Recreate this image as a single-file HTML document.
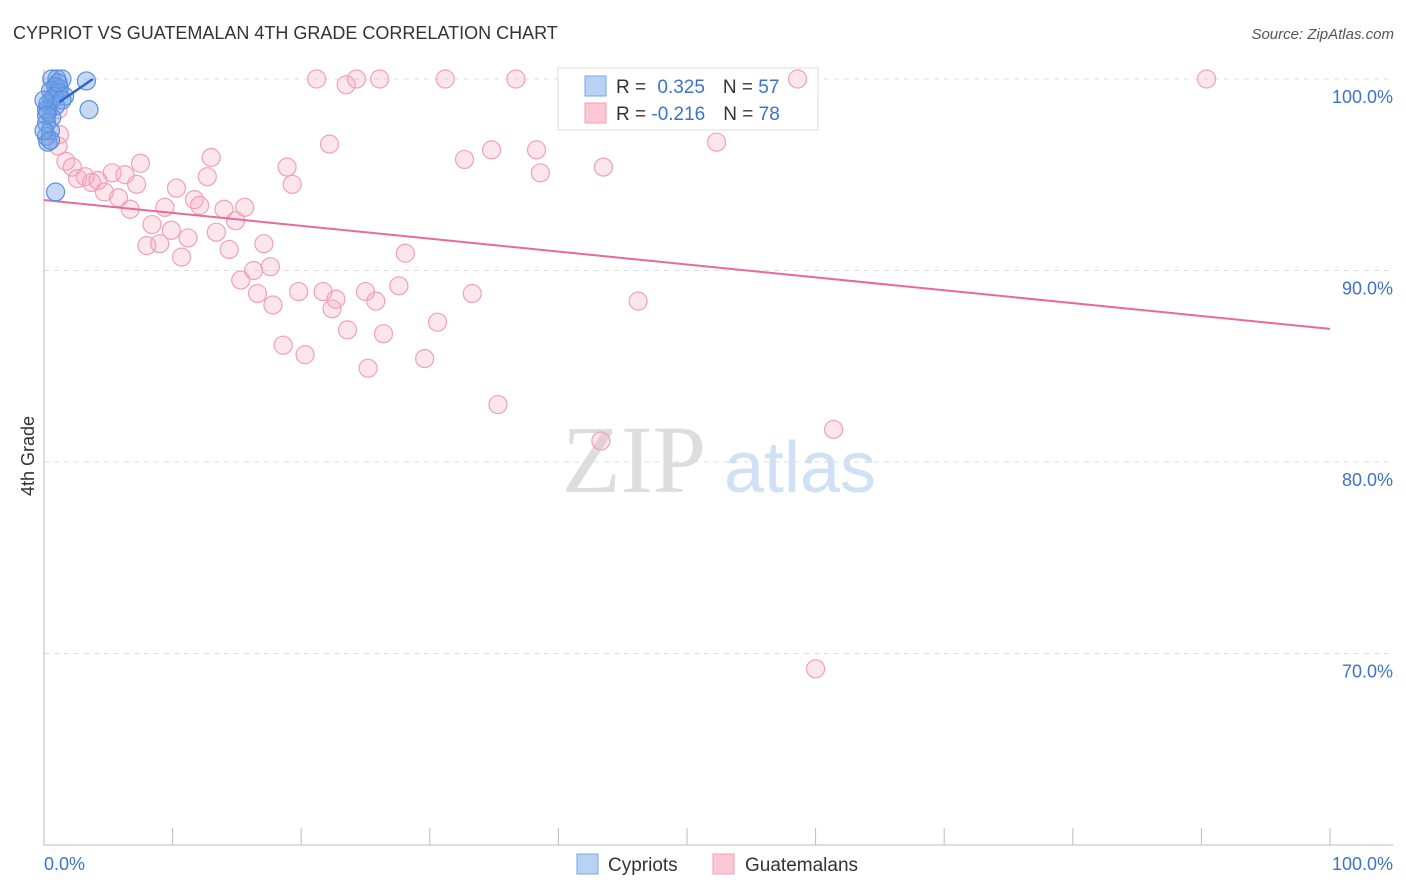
<!DOCTYPE html>
<html><head><meta charset="utf-8"><style>
body{margin:0;background:#fff;font-family:"Liberation Sans",sans-serif}
</style></head><body>
<svg id="c" width="1406" height="892" style="display:block">
<text x="13" y="39" font-size="18" fill="#333">CYPRIOT VS GUATEMALAN 4TH GRADE CORRELATION CHART</text>
<text x="1394" y="39" font-size="15" fill="#555" font-style="italic" text-anchor="end">Source: ZipAtlas.com</text>
<text x="34" y="456" font-size="18" fill="#333" transform="rotate(-90 34 456)" text-anchor="middle">4th Grade</text>
<text x="634" y="492" font-size="96" fill="#ddd" font-family="Liberation Serif" text-anchor="middle">ZIP</text>
<text x="800" y="492" font-size="72" fill="#d0e0f5" text-anchor="middle">atlas</text>
<g id="grid"></g>
<g>
<rect x="558" y="68" width="260" height="62" fill="#fff" stroke="#ddd"/>
<rect x="585" y="76" width="21" height="20" fill="#b8d2f5" stroke="#7aa6e6"/>
<rect x="585" y="103" width="21" height="20" fill="#fcc8d6" stroke="#f0a0b8"/>
<text x="616" y="93" font-size="19" fill="#333">R = <tspan fill="#3b73cc" dx="6">0.325</tspan><tspan dx="18" fill="#333">N = </tspan><tspan fill="#3b73cc">57</tspan></text>
<text x="616" y="120" font-size="19" fill="#333">R = <tspan fill="#3b73cc">-0.216</tspan><tspan dx="18" fill="#333">N = </tspan><tspan fill="#3b73cc">78</tspan></text>
</g>
<g id="pink"></g><g id="blue"></g>
<g>
<rect x="577" y="854" width="21" height="20" fill="#b8d2f5" stroke="#7aa6e6"/>
<text x="608" y="871" font-size="19" fill="#333">Cypriots</text>
<rect x="713" y="854" width="21" height="20" fill="#fcc8d6" stroke="#f0a0b8"/>
<text x="745" y="871" font-size="19" fill="#333">Guatemalans</text>
</g>
</svg>
<script>
const yTicks=[100,90,80,70];
const yTickLabels=["100.0%","90.0%","80.0%","70.0%"];
const xTicks=[0,10,20,30,40,50,60,70,80,90,100];
const blueX=[0.6,1.0,1.4,3.3,3.5,0.9,1.2,0.5,1.1,1.6,0.6,0.3,0.9,0.3,0.6,0.2,0.5,0.2,0.3,0.9,0.8,0.2,0.5,0,1.1,1.4,0.2,0];
const blueY=[100,100,100,99.9,98.4,99.6,99.5,99.4,99.3,99.1,98.9,98.7,98.6,98.3,98.0,97.7,97.3,97.0,96.7,94.1,99.1,98.4,96.8,98.9,99.8,98.9,98.1,97.3];
const pinkX=[21.2,23.5,24.3,26.1,31.2,36.7,58.6,90.4,1.1,1.2,1.1,1.7,2.2,2.6,3.2,3.7,4.2,4.7,5.8,5.3,6.3,7.2,7.5,6.7,8.0,8.4,9.0,9.4,9.9,10.3,10.7,11.2,11.7,12.1,12.7,13.0,13.4,14.0,14.4,14.9,15.6,15.3,16.3,16.6,17.1,17.6,17.8,18.6,18.9,19.3,19.8,20.3,21.7,22.2,22.4,22.7,23.6,25.0,25.2,25.8,26.4,27.6,28.1,29.6,30.6,32.7,33.3,34.8,35.3,38.3,38.6,43.3,43.5,46.2,52.3,61.4,60.0];
const pinkY=[100,99.7,100,100,100,100,100,100,98.4,97.1,96.5,95.7,95.4,94.8,94.9,94.6,94.7,94.1,93.8,95.1,95.0,94.5,95.6,93.2,91.3,92.4,91.4,93.3,92.1,94.3,90.7,91.7,93.7,93.4,94.9,95.9,92.0,93.2,91.1,92.6,93.3,89.5,90.0,88.8,91.4,90.2,88.2,86.1,95.4,94.5,88.9,85.6,88.9,96.6,88.0,88.5,86.9,88.9,84.9,88.4,86.7,89.2,90.9,85.4,87.3,95.8,88.8,96.3,83.0,96.3,95.1,81.1,95.4,88.4,96.7,81.7,69.2];
const blueTrend=[[1.2,98.8],[3.8,100]];
const pinkTrend=[[0,93.68],[100,86.95]];
const X=v=>44+v*12.86, Y=v=>79+(100-v)*19.15;
const NS="http://www.w3.org/2000/svg";
function mk(t,a,p){const e=document.createElementNS(NS,t);for(const k in a)e.setAttribute(k,a[k]);p.appendChild(e);return e;}
const g=document.getElementById('grid');
yTicks.forEach((t,i)=>{
 const l=mk('line',{x1:44,x2:1393,y1:Y(t),y2:Y(t),stroke:'#ddd','stroke-dasharray':'5,5'},g);
 
 
 const tx=mk('text',{x:1393,y:Y(t)+24,'font-size':18,fill:'#3b73cc','text-anchor':'end'},g);
 tx.textContent=yTickLabels[i];
 
 
});
const ax=mk('path',{d:'M44 70V845H1393',stroke:'#bbb',fill:'none'},g);


xTicks.forEach(t=>{
 const l=mk('line',{x1:X(t),x2:X(t),y1:828,y2:845,stroke:'#bbb'},g);
 
 
});
[[0,"0.0%","start",44],[100,"100.0%","end",1393]].forEach(d=>{
 const tx=mk('text',{x:d[3],y:870,'font-size':18,fill:'#3b73cc','text-anchor':d[2]},g);
 tx.textContent=d[1];
 
 
});
function pts(xs,ys,grp,fill,stroke,name){
 const p=document.getElementById(grp);
 xs.forEach((x,i)=>{
  const c=mk('circle',{cx:X(x),cy:Y(ys[i]),r:9,fill:fill,stroke:stroke,'stroke-width':1.2},p);
  
  
 });
}
pts(pinkX,pinkY,'pink','rgba(246,170,195,0.3)','#f0a0b8','guatemalan-point');
pts(blueX,blueY,'blue','rgba(110,160,230,0.4)','#5b8fde','cypriot-point');
const pl=mk('line',{x1:X(pinkTrend[0][0]),y1:Y(pinkTrend[0][1]),x2:X(pinkTrend[1][0]),y2:Y(pinkTrend[1][1]),stroke:'#e8699a','stroke-width':2},document.getElementById('pink'));


const bl=mk('line',{x1:X(blueTrend[0][0]),y1:Y(blueTrend[0][1]),x2:X(blueTrend[1][0]),y2:Y(blueTrend[1][1]),stroke:'#2a66cc','stroke-width':2.5},document.getElementById('blue'));


</script>
</body></html>
